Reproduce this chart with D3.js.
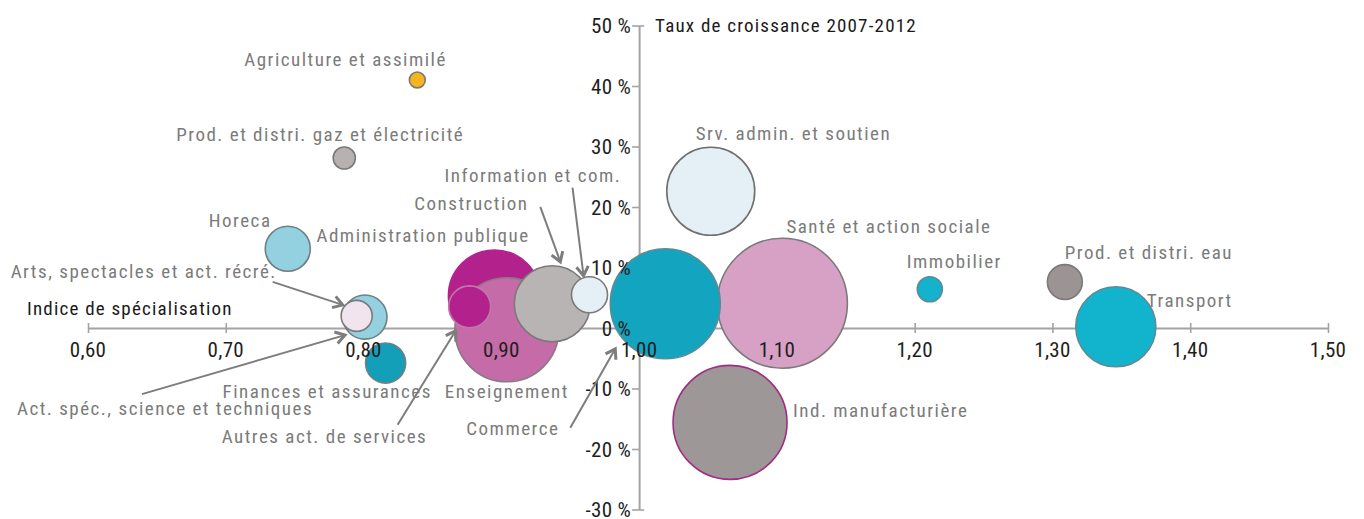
<!DOCTYPE html>
<html><head><meta charset="utf-8">
<script src="https://cdn.jsdelivr.net/npm/d3@7"></script>
<style>
html,body{margin:0;padding:0;background:#fff;}
svg{display:block;}
</style></head>
<body><svg id="chart" width="1364" height="519"></svg>
<script>
// ---------- DATA ----------
const secteurs = [
  "Agriculture et assimilé",
  "Prod. et distri. gaz et électricité",
  "Horeca",
  "Act. spéc., science et techniques",
  "Arts, spectacles et act. récré.",
  "Finances et assurances",
  "Administration publique",
  "Enseignement",
  "Autres act. de services",
  "Construction",
  "Information et com.",
  "Santé et action sociale",
  "Commerce",
  "Srv. admin. et soutien",
  "Ind. manufacturière",
  "Immobilier",
  "Prod. et distri. eau",
  "Transport"
];
const indiceSpecialisation = [0.839, 0.786, 0.745, 0.801, 0.795, 0.816, 0.895, 0.904, 0.877, 0.937, 0.964, 1.104, 1.019, 1.052, 1.066, 1.211, 1.309, 1.346];
const tauxCroissance = [41.0, 28.1, 13.1, 1.8, 2.0, -5.8, 5.3, -0.3, 3.5, 4.0, 5.5, 4.1, 4.0, 22.6, -15.6, 6.4, 7.6, 0.2];
const poidsEmploi = [1.5, 2.9, 12.0, 11.5, 5.7, 9.5, 50.1, 64.0, 10.4, 34.2, 7.7, 100, 71.6, 45.8, 76.9, 3.7, 7.2, 37.9];

const xTickValues = [0.6, 0.7, 0.8, 0.9, 1.0, 1.1, 1.2, 1.3, 1.4, 1.5];
const yTickValues = [-30, -20, -10, 0, 10, 20, 30, 40, 50];
const xTitre = "Indice de spécialisation";
const yTitre = "Taux de croissance 2007-2012";

// ---------- STYLE / LAYOUT ----------
const couleurs = ["#f4b51e","#b7b1b1","#93d1e0","#93d1e0","#f2e4ee","#149fb8","#b3228c","#c56ba7","#b3228c","#b9b4b4","#e4f0f5","#d6a1c4","#13a4bf","#e4f0f5","#9e9797","#14b2cc","#9c9494","#12b4cd"];
const contours = ["#7a7a7a","#7a7a7a","#6f7f84","#6f7f84","#7a7a7a","#6f7f84","#b3228c","#8a7a85","#c07aaa","#7a7a7a","#7a7a7a","#7a7a7a","#5f8a94","#6f6f6f","#a02c84","#5f8a94","#7a7a7a","#5f8a94"];
// label offsets (px) relative to bubble centre, text-anchor start
const labelOffsets = [[-173,-14],[-168,-17],[-79,-22],[-348,98],[-346,-38],[-163,35],[-178,-54],[-62,68],[-248,136],[-138,-94],[-145,-113],[4,-70],[-199,131],[-15,-51],[63,-5],[-23,-21],[0,-23],[31,-20]];
// arrows: [sector index, start dx, start dy, end dx, end dy]
const fleches = [[4,-84,-34,-14,-11],[3,-223,77,-20,18],[8,-72,118,-14,24],[12,-95,124,-50,45],[9,-12,-97,8,-42],[10,-17,-107,-6,-19]];

const svg = d3.select("#chart");
const FONT = "'Roboto Condensed', Roboto, 'DejaVu Sans Condensed', sans-serif";

const x = d3.scaleLinear().domain([0.6, 1.5]).range([88, 1328]);
const y = d3.scaleLinear().domain([-30, 50]).range([509.5, 25.5]);
const r = d3.scaleSqrt().domain([0, 100]).range([0, 65]);

const axisColor = "#a3a3a3";
const y0 = y(0), x0 = x(1.0);

// X axis
const gx = svg.append("g").attr("transform", `translate(0,${y0})`)
  .call(d3.axisBottom(x).tickValues(xTickValues).tickSize(5).tickSizeOuter(0).tickFormat(() => ""));
gx.select(".domain").attr("stroke", axisColor).attr("stroke-width", 2);
gx.selectAll(".tick line").attr("stroke", axisColor).attr("stroke-width", 1.6).attr("y1", -5).attr("y2", 5);

// Y axis
const gy = svg.append("g").attr("transform", `translate(${x0},0)`)
  .call(d3.axisLeft(y).tickValues(yTickValues).tickSize(6).tickSizeOuter(0).tickFormat(() => ""));
gy.select(".domain").attr("stroke", axisColor).attr("stroke-width", 2);
gy.selectAll(".tick line").attr("stroke", axisColor).attr("stroke-width", 1.6).attr("x1", 0).attr("x2", -7);
gy.selectAll(".tick").filter(d => d === 50 || d === -30).select("line").attr("x1", 5);

// bubbles
const data = secteurs.map((s, i) => ({s, i, xv: indiceSpecialisation[i], yv: tauxCroissance[i], w: poidsEmploi[i]}));
svg.append("g").selectAll("circle").data(data).join("circle")
  .attr("cx", d => x(d.xv)).attr("cy", d => y(d.yv)).attr("r", d => r(d.w))
  .attr("fill", d => couleurs[d.i]).attr("stroke", d => contours[d.i]).attr("stroke-width", 1.6);

// tick labels
svg.append("g").selectAll("text").data(xTickValues).join("text")
  .attr("x", d => x(d)).attr("y", y0 + 29).attr("text-anchor", "middle")
  .attr("font-family", FONT).attr("font-size", 21).attr("letter-spacing", 0.3).attr("fill", "#1e1e1e")
  .text(d => d3.format(".2f")(d).replace(".", ","));
svg.append("g").selectAll("text").data(yTickValues).join("text")
  .attr("x", x0 - 8).attr("y", d => Math.min(y(d) + 7.5, 516.5)).attr("text-anchor", "end")
  .attr("font-family", FONT).attr("font-size", 21).attr("letter-spacing", 0.3).attr("fill", "#1e1e1e")
  .text(d => d + " %");

// axis titles
svg.append("text").attr("x", x0 + 16).attr("y", 32).attr("font-family", FONT).attr("font-size", 19)
  .attr("letter-spacing", 1.2).attr("fill", "#1a1a1a").text(yTitre);
svg.append("text").attr("x", 27).attr("y", 315).attr("font-family", FONT).attr("font-size", 19)
  .attr("letter-spacing", 1.2).attr("fill", "#1a1a1a").text(xTitre);

// arrows
const arrowColor = "#7d7d7d";
const ga = svg.append("g");
fleches.forEach(([i, sdx, sdy, edx, edy]) => {
  const cx = x(indiceSpecialisation[i]), cy = y(tauxCroissance[i]);
  const x1 = cx + sdx, y1 = cy + sdy, x2 = cx + edx, y2 = cy + edy;
  ga.append("line").attr("x1", x1).attr("y1", y1).attr("x2", x2).attr("y2", y2)
    .attr("stroke", arrowColor).attr("stroke-width", 2);
  const ang = Math.atan2(y2 - y1, x2 - x1), L = 11, a = Math.PI / 5.5;
  const p = d3.path();
  p.moveTo(x2 - L * Math.cos(ang - a), y2 - L * Math.sin(ang - a));
  p.lineTo(x2, y2);
  p.lineTo(x2 - L * Math.cos(ang + a), y2 - L * Math.sin(ang + a));
  ga.append("path").attr("d", p.toString()).attr("fill", "none").attr("stroke", arrowColor)
    .attr("stroke-width", 3).attr("stroke-linejoin", "miter");
});

// labels
svg.append("g").selectAll("text").data(data).join("text")
  .attr("x", d => x(d.xv) + labelOffsets[d.i][0]).attr("y", d => y(d.yv) + labelOffsets[d.i][1])
  .attr("font-family", FONT).attr("font-size", 19).attr("letter-spacing", 1.5)
  .attr("fill", "#7b7b7b").text(d => d.s);
</script>
</body></html>
